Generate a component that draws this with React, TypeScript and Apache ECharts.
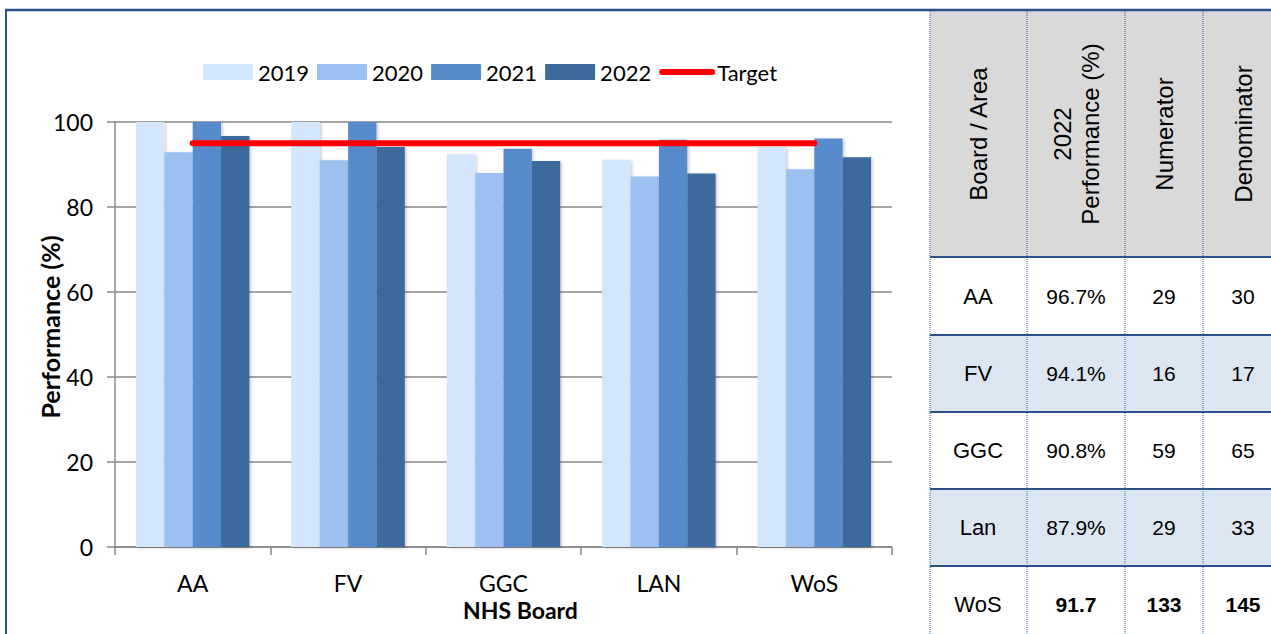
import React, { useEffect, useRef } from "react";
import * as echarts from "echarts";

const categories = ["AA", "FV", "GGC", "LAN", "WoS"];
const years = ["2019", "2020", "2021", "2022"];
const v2019 = [100, 100, 92.4, 91.1, 94.1];
const v2020 = [92.9, 91.0, 88.0, 87.2, 88.9];
const v2021 = [100, 100, 93.7, 95.8, 96.1];
const v2022 = [96.7, 94.1, 90.8, 87.9, 91.7];
const targetValues = [95, 95, 95, 95, 95];
const yearColors = ["#D4E6FC", "#9CC0EF", "#598BCB", "#3E6A9D"];

const tableHeaders = ["Board / Area", "2022\nPerformance (%)", "Numerator", "Denominator"];
const tableAreas = ["AA", "FV", "GGC", "Lan", "WoS"];
const tablePerf = ["96.7%", "94.1%", "90.8%", "87.9%", "91.7"];
const tableNum = ["29", "16", "59", "29", "133"];
const tableDen = ["30", "17", "65", "33", "145"];

const CHART_FONT = "Lato, 'Liberation Sans', sans-serif";
const TABLE_FONT = "'Liberation Sans', Arial, sans-serif";

export default function App() {
  const ref = useRef<HTMLDivElement>(null);
  useEffect(() => {
    if (!ref.current) return;
    const chart = echarts.init(ref.current, null, { renderer: "svg" });

    const colX = [930, 1027, 1125, 1203, 1287];
    const colCenters = [978, 1076, 1164, 1243];
    const rowTops = [257, 335, 412, 489, 566];
    const rowBottoms = [335, 412, 489, 566, 642];
    const rowFills = ["#FFFFFF", "#DCE6F2", "#FFFFFF", "#DCE6F2", "#FFFFFF"];
    const border = "#2A5288";

    const graphics: any[] = [];
    graphics.push({ type: "rect", shape: { x: 930, y: 11, width: 341, height: 246 }, style: { fill: "#D9D9D9" }, silent: true });
    rowTops.forEach((t, i) => {
      graphics.push({ type: "rect", shape: { x: 930, y: t, width: 341, height: rowBottoms[i] - t }, style: { fill: rowFills[i] }, silent: true });
    });
    colX.slice(0, 4).forEach((x) => {
      graphics.push({ type: "line", shape: { x1: x, y1: 11, x2: x, y2: 634 }, style: { stroke: "#3B5E96", lineWidth: 1, lineDash: [1, 1] }, silent: true });
    });
    rowTops.forEach((t) => {
      graphics.push({ type: "line", shape: { x1: 930, y1: t, x2: 1271, y2: t }, style: { stroke: border, lineWidth: 2 }, silent: true });
    });
    graphics.push({ type: "line", shape: { x1: 5, y1: 10, x2: 1271, y2: 10 }, style: { stroke: border, lineWidth: 2.5 }, silent: true });
    graphics.push({ type: "line", shape: { x1: 6, y1: 9, x2: 6, y2: 634 }, style: { stroke: border, lineWidth: 2 }, silent: true });

    tableHeaders.forEach((h, i) => {
      graphics.push({
        type: "text",
        x: colCenters[i],
        y: 134,
        rotation: Math.PI / 2,
        style: { text: h, fill: "#000", font: `24px ${TABLE_FONT}`, align: "center", verticalAlign: "middle", lineHeight: 28 },
        silent: true,
      });
    });
    tableAreas.forEach((a, r) => {
      const cy = r < 4 ? (rowTops[r] + rowBottoms[r]) / 2 : 604;
      const bold = r === 4;
      const cells = [a, tablePerf[r], tableNum[r], tableDen[r]];
      cells.forEach((c, ci) => {
        graphics.push({
          type: "text",
          x: colCenters[ci],
          y: cy,
          style: {
            text: c,
            fill: "#000",
            font: `${bold && ci > 0 ? "bold " : ""}${ci === 0 ? 22 : 21}px ${TABLE_FONT}`,
            align: "center",
            verticalAlign: "middle",
          },
          silent: true,
        });
      });
    });

    const barSeries = [v2019, v2020, v2021, v2022].map((vals, i) => ({
      name: years[i],
      type: "bar",
      data: vals,
      barGap: "0%",
      barCategoryGap: "27%",
      itemStyle: {
        color: yearColors[i],
        shadowBlur: 3,
        shadowOffsetX: 1.5,
        shadowOffsetY: 1,
        shadowColor: "rgba(0,0,0,0.22)",
      },
      z: 2,
    }));

    chart.setOption({
      animation: false,
      backgroundColor: "#FFFFFF",
      textStyle: { fontFamily: CHART_FONT },
      legend: {
        left: 198,
        top: 56,
        itemWidth: 50,
        itemHeight: 16,
        itemGap: 8,
        textStyle: { fontSize: 22, color: "#000", fontFamily: CHART_FONT },
        data: [
          { name: "2019", icon: "rect" },
          { name: "2020", icon: "rect" },
          { name: "2021", icon: "rect" },
          { name: "2022", icon: "rect" },
          { name: "Target", itemStyle: { opacity: 0 }, lineStyle: { color: "#FF0000", width: 6, cap: "round" } },
        ],
      },
      grid: { left: 115, right: 379, top: 122, bottom: 87, containLabel: false },
      xAxis: {
        type: "category",
        data: categories,
        boundaryGap: true,
        name: "NHS Board",
        nameLocation: "middle",
        nameGap: 51,
        nameTextStyle: { fontSize: 23, fontWeight: "bold", color: "#000", fontFamily: CHART_FONT, padding: [0, 0, 0, 34] },
        axisLine: { show: true, lineStyle: { color: "#888888", width: 1.5 } },
        axisTick: { show: true, inside: false, length: 8, alignWithLabel: false, lineStyle: { color: "#888888", width: 1.5 } },
        axisLabel: { fontSize: 23, color: "#000", margin: 24, fontFamily: CHART_FONT },
      },
      yAxis: {
        type: "value",
        min: 0,
        max: 100,
        interval: 20,
        name: "Performance (%)",
        nameLocation: "middle",
        nameGap: 53,
        nameRotate: 90,
        nameMoveOverlap: false,
        nameTextStyle: { fontSize: 25, fontWeight: "bold", color: "#000", fontFamily: CHART_FONT, padding: [0, 0, 0, 15] },
        axisLine: { show: true, lineStyle: { color: "#888888", width: 1.5 } },
        axisTick: { show: true, inside: false, length: 8, lineStyle: { color: "#888888", width: 1.5 } },
        axisLabel: { fontSize: 23, color: "#000", margin: 22, fontFamily: CHART_FONT },
        splitLine: { show: true, lineStyle: { color: "#888888", width: 1.5 } },
      },
      series: [
        ...barSeries,
        {
          name: "Target",
          type: "line",
          data: targetValues,
          symbol: "none",
          showSymbol: false,
          lineStyle: { color: "#FF0000", width: 6, cap: "round" },
          itemStyle: { color: "#FF0000" },
          z: 5,
        },
      ],
      graphic: graphics,
    });
    return () => chart.dispose();
  }, []);
  return <div ref={ref} style={{ position: "absolute", left: 0, top: 0, width: 1271, height: 634 }} />;
}
